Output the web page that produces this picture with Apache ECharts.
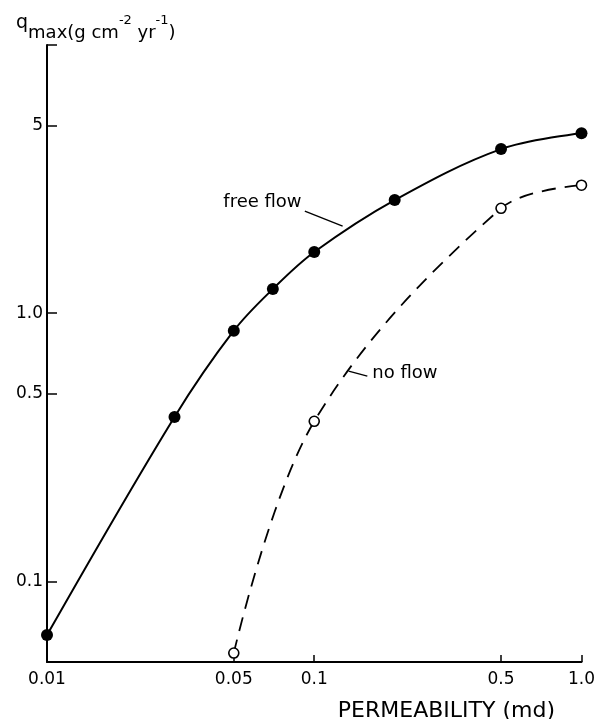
<!DOCTYPE html>
<html>
<head>
<meta charset="utf-8">
<script src="https://cdn.jsdelivr.net/npm/echarts@6/dist/echarts.min.js"></script>
<style>
html,body{margin:0;padding:0;background:#fff;}
#chart{width:598px;height:719px;}
</style>
</head>
<body>
<div id="chart"></div>
<script>
// ---- data (raw units) ----
const freeFlowX = [0.01, 0.03, 0.05, 0.07, 0.1, 0.2, 0.5, 1.0];
const freeFlowY = [0.063, 0.41, 0.86, 1.23, 1.69, 2.64, 4.09, 4.69];
const noFlowX = [0.05, 0.1, 0.5, 1.0];
const noFlowY = [0.054, 0.395, 2.46, 3.0];

const xTicks = [0.01, 0.05, 0.1, 0.5, 1.0];
const xTickLabels = ['0.01', '0.05', '0.1', '0.5', '1.0'];
const yTicks = [0.1, 0.5, 1.0, 5, 10];
const yLabelTicks = [0.1, 0.5, 1.0, 5];
const yTickLabels = ['0.1', '0.5', '1.0', '5'];
const xRange = [0.01, 1.0];
const yRange = [0.05, 10];

// annotation anchors (raw data units)
const freeFlowLabelAt = [0.064, 2.596];
const freeFlowArrow = [[0.0922, 2.402], [0.1277, 2.112]];
const noFlowLabelAt = [0.2183, 0.5972];
const noFlowArrow = [[0.158, 0.582], [0.1345, 0.6075]];

const L = Math.log10;
const pt = (x, y) => [L(x), L(y)];
const freeFlowData = freeFlowX.map((x, i) => pt(x, freeFlowY[i]));
const noFlowData = noFlowX.map((x, i) => pt(x, noFlowY[i]));

function labelFor(v, ticks, labels) {
  let best = 0, bd = Infinity;
  ticks.forEach((t, i) => { const d = Math.abs(L(t) - v); if (d < bd) { bd = d; best = i; } });
  return labels[best];
}

const FONT = 'DejaVu Sans';
const chart = echarts.init(document.getElementById('chart'), null, {renderer: 'canvas'});

const tickStyle = {show: true, inside: true, length: 9, lineStyle: {color: '#000', width: 1.5}};

chart.setOption({
  animation: false,
  backgroundColor: '#fff',
  title: [
    {
      left: 11, top: 9,
      text: '{q|q}{sub|max}{n|(g cm}{sup|-2}{n| yr}{sup|-1}{n|)}',
      textStyle: {
        fontFamily: FONT, fontWeight: 'normal', color: '#000',
        rich: {
          q: {fontFamily: FONT, fontSize: 19, color: '#000', verticalAlign: 'top', lineHeight: 20},
          sub: {fontFamily: FONT, fontSize: 18, color: '#000', verticalAlign: 'bottom', lineHeight: 28},
          n: {fontFamily: FONT, fontSize: 18, color: '#000', verticalAlign: 'bottom', lineHeight: 28},
          sup: {fontFamily: FONT, fontSize: 13, color: '#000', verticalAlign: 'top', lineHeight: 16}
        }
      }
    },
    {
      right: 38, top: 695,
      text: 'PERMEABILITY (md)',
      textStyle: {fontFamily: FONT, fontWeight: 'normal', fontSize: 22, color: '#000'}
    }
  ],
  grid: {left: 47, right: 15, top: 45, bottom: 57, containLabel: false},
  xAxis: {
    type: 'value',
    min: L(xRange[0]), max: L(xRange[1]),
    splitLine: {show: false},
    axisLine: {show: true, onZero: false, lineStyle: {color: '#000', width: 2}},
    axisTick: Object.assign({}, tickStyle, {length: 7, customValues: xTicks.map(L)}),
    axisLabel: {
      customValues: xTicks.map(L), margin: 9,
      fontFamily: FONT, fontSize: 17, color: '#000',
      formatter: v => labelFor(v, xTicks, xTickLabels)
    }
  },
  yAxis: {
    type: 'value',
    min: L(yRange[0]), max: L(yRange[1]),
    splitLine: {show: false},
    axisLine: {show: true, onZero: false, lineStyle: {color: '#000', width: 2}},
    axisTick: Object.assign({}, tickStyle, {length: 10, customValues: yTicks.map(L)}),
    axisLabel: {
      customValues: yLabelTicks.map(L), margin: 4,
      fontFamily: FONT, fontSize: 17, color: '#000',
      formatter: v => labelFor(v, yLabelTicks, yTickLabels)
    }
  },
  series: [
    {
      name: 'free flow', type: 'line', data: freeFlowData, smooth: 0.35,
      symbol: 'circle', symbolSize: 12, showAllSymbol: true,
      itemStyle: {color: '#000'},
      lineStyle: {color: '#000', width: 2},
      z: 3,
      markPoint: {
        symbol: 'circle', symbolSize: 0, silent: true,
        itemStyle: {color: 'rgba(0,0,0,0)'},
        label: {show: true, position: 'inside', formatter: 'free flow', fontFamily: FONT, fontSize: 18, color: '#000'},
        data: [{coord: pt(freeFlowLabelAt[0], freeFlowLabelAt[1])}]
      },
      markLine: {
        silent: true, symbolSize: [0, 10],
        label: {show: false},
        lineStyle: {color: '#000', width: 1.4, type: 'solid', curveness: 0.15},
        data: [[
          {coord: pt(freeFlowArrow[0][0], freeFlowArrow[0][1]), symbol: 'none'},
          {coord: pt(freeFlowArrow[1][0], freeFlowArrow[1][1]), symbol: 'arrow'}
        ]]
      }
    },
    {
      name: 'no flow', type: 'line', data: noFlowData, smooth: 0.35,
      symbol: 'circle', symbolSize: 10, showAllSymbol: true,
      itemStyle: {color: '#fff', borderColor: '#000', borderWidth: 1.6},
      lineStyle: {color: '#000', width: 1.8, type: [14, 9]},
      z: 3,
      markPoint: {
        symbol: 'circle', symbolSize: 0, silent: true,
        itemStyle: {color: 'rgba(0,0,0,0)'},
        label: {show: true, position: 'inside', formatter: 'no flow', fontFamily: FONT, fontSize: 18, color: '#000'},
        data: [{coord: pt(noFlowLabelAt[0], noFlowLabelAt[1])}]
      },
      markLine: {
        silent: true, symbolSize: [0, 10],
        label: {show: false},
        lineStyle: {color: '#000', width: 1.4, type: 'solid', curveness: 0},
        data: [[
          {coord: pt(noFlowArrow[0][0], noFlowArrow[0][1]), symbol: 'none'},
          {coord: pt(noFlowArrow[1][0], noFlowArrow[1][1]), symbol: 'arrow'}
        ]]
      }
    }
  ]
});
</script>
</body>
</html>
